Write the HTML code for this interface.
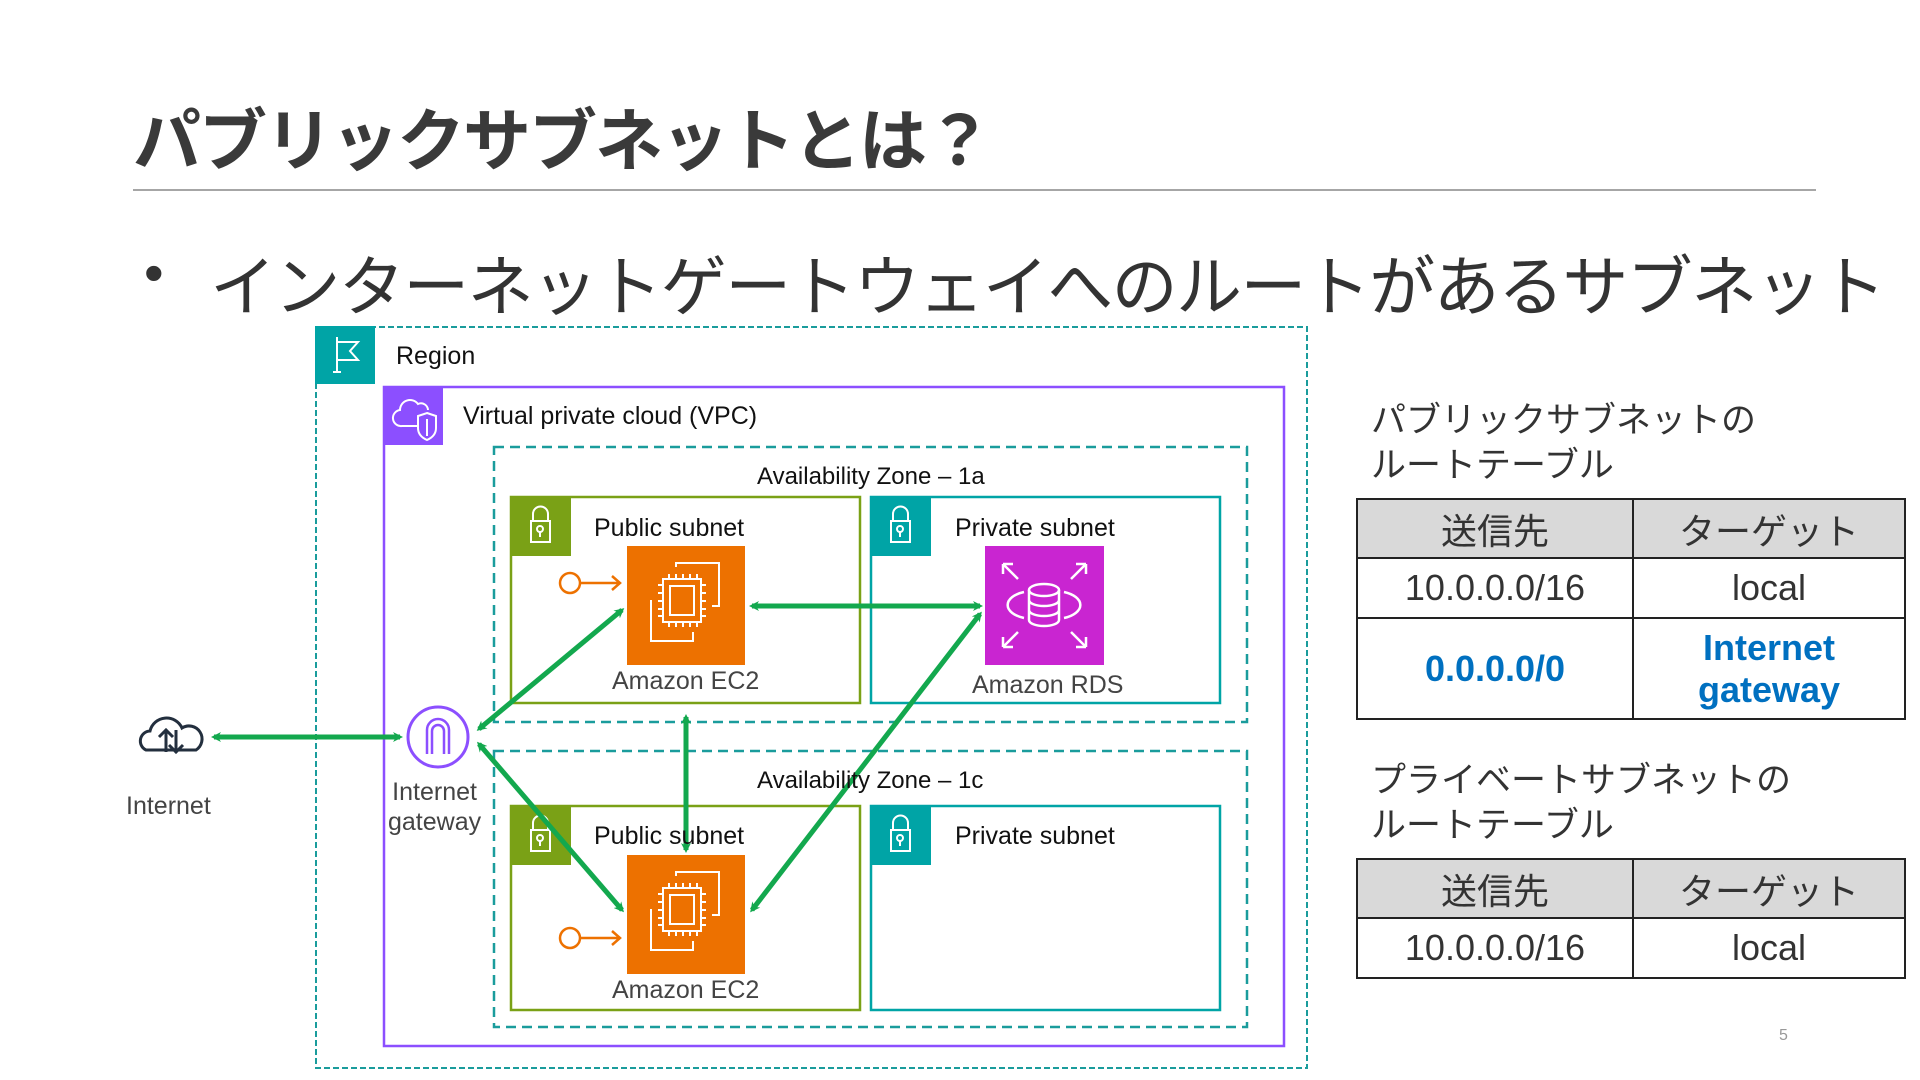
<!DOCTYPE html>
<html><head><meta charset="utf-8"><style>
body{margin:0;width:1920px;height:1080px;background:#fff;position:relative;overflow:hidden;font-family:"Liberation Sans","Noto Sans CJK JP",sans-serif;color:#333}
.a{position:absolute;white-space:nowrap}
.jp{font-family:"Noto Sans CJK JP",sans-serif}
table{position:absolute;border-collapse:collapse;font-family:"Liberation Sans","Noto Sans CJK JP",sans-serif;font-size:36px;color:#333}
td{border:2px solid #222;text-align:center;padding:0;line-height:42px}
th{border:2px solid #222;background:#d9d9d9;font-weight:normal;padding:0}
.b{color:#0070c0;font-weight:bold}
</style></head><body>
<div class="a jp" style="left:133px;top:86px;font-size:68px;font-weight:bold;color:#3a3a3a;letter-spacing:-2px">パブリックサブネットとは？</div>
<div style="position:absolute;left:133px;top:189px;width:1683px;height:2px;background:#a6a6a6"></div>
<div class="a" style="left:144px;top:240px;font-size:56px;color:#333">•</div>
<div class="a jp" style="left:210px;top:237px;font-size:66px;color:#333;letter-spacing:-1.6px;line-height:90px">インターネットゲートウェイへのルートがあるサブネット</div>

<svg style="position:absolute;left:0;top:0" width="1920" height="1080">
<defs>
<marker id="ah" markerWidth="10" markerHeight="10" refX="7" refY="5" orient="auto-start-reverse" markerUnits="userSpaceOnUse" viewBox="0 0 10 10"><path d="M0,0 L10,5 L0,10 L3,5z" fill="#13a84e"/></marker>
</defs>
<g fill="none">
<rect x="316" y="327" width="991" height="741" stroke="#1a9c9c" stroke-width="2" stroke-dasharray="6,3"/>
<rect x="384" y="387" width="900" height="659" stroke="#8c4fff" stroke-width="2.5"/>
<rect x="494" y="447" width="753" height="275" stroke="#1a9c9c" stroke-width="2.5" stroke-dasharray="10,6"/>
<rect x="494" y="751" width="753" height="276" stroke="#1a9c9c" stroke-width="2.5" stroke-dasharray="10,6"/>
<rect x="511" y="497" width="349" height="206" stroke="#7aa116" stroke-width="2.5"/>
<rect x="871" y="497" width="349" height="206" stroke="#00a4a6" stroke-width="2.5"/>
<rect x="511" y="806" width="349" height="204" stroke="#7aa116" stroke-width="2.5"/>
<rect x="871" y="806" width="349" height="204" stroke="#00a4a6" stroke-width="2.5"/>
</g>
<rect x="315" y="326" width="60" height="58" fill="#00a4a6"/>
<path d="M337,337 V372 M333,372 H341 M337,342 H358 L350,351 L358,360 H337" stroke="#fff" stroke-width="2" fill="none"/>
<rect x="383" y="386" width="60" height="59" fill="#8c4fff"/>
<path d="M418,426 H402 A8,8 0 0 1 400,410 A10,10 0 0 1 418,404 A7,7 0 0 1 428,410" stroke="#fff" stroke-width="2" fill="none"/>
<path d="M427,413 L436,416 V428 Q436,436 427,440 Q418,436 418,428 V416Z M427,419 V436" stroke="#fff" stroke-width="2" fill="none"/>
<g stroke="#fff" stroke-width="2" fill="none">
<rect x="510" y="496" width="61" height="60" fill="#7aa116" stroke="none"/>
<rect x="531" y="521" width="19" height="21"/><path d="M533,521 V514 A7,7 0 0 1 548,514 V521"/><circle cx="540" cy="529" r="3"/><path d="M540,532 V537"/>
<rect x="870" y="496" width="61" height="60" fill="#00a4a6" stroke="none"/>
<rect x="891" y="521" width="19" height="21"/><path d="M893,521 V514 A7,7 0 0 1 908,514 V521"/><circle cx="900" cy="529" r="3"/><path d="M900,532 V537"/>
<rect x="510" y="805" width="61" height="60" fill="#7aa116" stroke="none"/>
<rect x="531" y="830" width="19" height="21"/><path d="M533,830 V823 A7,7 0 0 1 548,823 V830"/><circle cx="540" cy="838" r="3"/><path d="M540,841 V846"/>
<rect x="870" y="805" width="61" height="60" fill="#00a4a6" stroke="none"/>
<rect x="891" y="830" width="19" height="21"/><path d="M893,830 V823 A7,7 0 0 1 908,823 V830"/><circle cx="900" cy="838" r="3"/><path d="M900,841 V846"/>
</g>
<g id="ec2">
<rect x="627" y="546" width="118" height="119" fill="#ed7100"/>
<g stroke="#fff" stroke-width="2" fill="none">
<path d="M676,567 V563 H719 V606 H712 M651,600 V641 H693 V632"/>
<rect x="663" y="579" width="38" height="43"/><rect x="670" y="586" width="24" height="29"/>
<path d="M669,579 v-5 M676,579 v-5 M683,579 v-5 M690,579 v-5 M697,579 v-5 M669,622 v5 M676,622 v5 M683,622 v5 M690,622 v5 M697,622 v5 M663,585 h-5 M663,593 h-5 M663,601 h-5 M663,609 h-5 M663,616 h-5 M701,585 h5 M701,593 h5 M701,601 h5 M701,609 h5 M701,616 h5"/>
</g></g>
<use href="#ec2" transform="translate(0,309)"/>
<g stroke="#ed7100" stroke-width="2.5" fill="none">
<circle cx="570" cy="583" r="10"/><path d="M580,583 H620 M612,576 L620,583 L612,590"/>
<circle cx="570" cy="938" r="10"/><path d="M580,938 H620 M612,931 L620,938 L612,945"/>
</g>
<rect x="985" y="546" width="119" height="119" fill="#c925d1"/>
<g stroke="#fff" stroke-width="2.5" fill="none">
<ellipse cx="1044" cy="590" rx="15" ry="6"/><path d="M1029,590 V620 A15,6 0 0 0 1059,620 V590 M1029,600 A15,6 0 0 0 1059,600 M1029,610 A15,6 0 0 0 1059,610"/>
<path d="M1024,592 A26,14 0 0 0 1024,618 M1064,592 A26,14 0 0 1 1064,618"/>
<path d="M1003,564 L1018,579 M1003,564 h10 M1003,564 v10 M1086,564 L1071,579 M1086,564 h-10 M1086,564 v10 M1003,647 L1018,632 M1003,647 h10 M1003,647 v-10 M1086,647 L1071,632 M1086,647 h-10 M1086,647 v-10"/>
</g>
<circle cx="438" cy="737" r="30" stroke="#8c4fff" stroke-width="3" fill="#fff"/>
<path d="M427,754 V730 A11,11 0 0 1 449,730 V754 M432,754 V731 A6,6 0 0 1 444,731 V754" stroke="#8c4fff" stroke-width="2.5" fill="none"/>
<path d="M146,750 A10,10 0 0 1 150,731 A17,17 0 0 1 182,728 A11,11 0 0 1 196,750 Z" stroke="#232f3e" stroke-width="3" fill="none"/>
<path d="M166,752 V730 M159,737 L166,730 L173,737 M176,730 V752 M169,745 L176,752 L183,745" stroke="#232f3e" stroke-width="3" fill="none"/>
<g stroke="#13a84e" stroke-width="5" marker-start="url(#ah)" marker-end="url(#ah)">
<line x1="214" y1="737" x2="400" y2="737"/>
<line x1="479" y1="729" x2="622" y2="610"/>
<line x1="479" y1="744" x2="622" y2="910"/>
<line x1="752" y1="606" x2="980" y2="606"/>
<line x1="980" y1="614" x2="752" y2="910"/>
<line x1="686" y1="717" x2="686" y2="850"/>
</g>
</svg>

<div class="a" style="left:396px;top:342px;font-size:25px;color:#111">Region</div>
<div class="a" style="left:463px;top:402px;font-size:25px;color:#111">Virtual private cloud (VPC)</div>
<div class="a" style="left:757px;top:463px;font-size:24px;color:#111">Availability Zone – 1a</div>
<div class="a" style="left:757px;top:767px;font-size:24px;color:#111">Availability Zone – 1c</div>
<div class="a" style="left:594px;top:514px;font-size:25px;color:#111">Public subnet</div>
<div class="a" style="left:955px;top:514px;font-size:25px;color:#111">Private subnet</div>
<div class="a" style="left:594px;top:822px;font-size:25px;color:#111">Public subnet</div>
<div class="a" style="left:955px;top:822px;font-size:25px;color:#111">Private subnet</div>
<div class="a" style="left:612px;top:667px;font-size:25px;color:#444">Amazon EC2</div>
<div class="a" style="left:972px;top:671px;font-size:25px;color:#444">Amazon RDS</div>
<div class="a" style="left:612px;top:976px;font-size:25px;color:#444">Amazon EC2</div>
<div class="a" style="left:388px;top:777px;font-size:25px;color:#444;text-align:center;line-height:30px">Internet<br>gateway</div>
<div class="a" style="left:126px;top:792px;font-size:25px;color:#444">Internet</div>

<div class="a jp" style="left:1371px;top:395px;font-size:35px;color:#333;line-height:45px">パブリックサブネットの<br>ルートテーブル</div>
<table style="left:1356px;top:498px;width:550px">
<tr style="height:59px"><th style="width:274px">送信先</th><th>ターゲット</th></tr>
<tr style="height:60px"><td>10.0.0.0/16</td><td>local</td></tr>
<tr style="height:101px"><td class="b">0.0.0.0/0</td><td class="b">Internet<br>gateway</td></tr>
</table>
<div class="a jp" style="left:1371px;top:755px;font-size:35px;color:#333;line-height:45px">プライベートサブネットの<br>ルートテーブル</div>
<table style="left:1356px;top:858px;width:550px">
<tr style="height:59px"><th style="width:274px">送信先</th><th>ターゲット</th></tr>
<tr style="height:60px"><td>10.0.0.0/16</td><td>local</td></tr>
</table>
<div class="a" style="left:1779px;top:1027px;font-size:16px;color:#999">5</div>
</body></html>
